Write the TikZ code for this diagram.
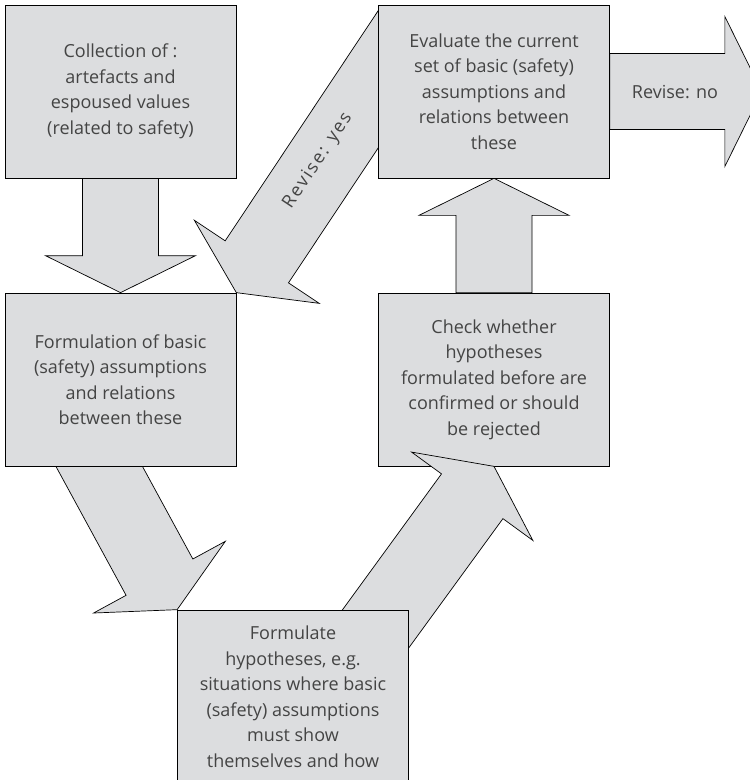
\documentclass[tikz,border=0pt]{standalone}
\usepackage{fontspec}
\setmainfont{Open Sans}
\usetikzlibrary{calc}
\definecolor{boxgray}{RGB}{220,221,223}
\definecolor{inkgray}{RGB}{68,68,68}
\pgfdeclarelayer{bottom}
\pgfdeclarelayer{back}
\pgfsetlayers{bottom,back,main}
\tikzset{
	blockbox/.style={draw=black, line width=0.7pt, fill=boxgray, minimum width=231pt, minimum height=173pt, inner sep=0pt, align=center, text=inkgray, font=\fontsize{18}{25.5}\selectfont},
	fatbody/.style={draw=black, line width=0.7pt, fill=boxgray, line join=miter},
	arrowtext/.style={text=inkgray, font=\fontsize{18}{25.5}\selectfont, inner sep=0pt}
}
\def\fatarrow(#1)(#2){\coordinate (fa-b) at ($(#2)!37pt!(#1)$);
	\draw[fatbody] ($(#1)!38pt!90:(#2)$) -- ($(fa-b)!38pt!90:(#2)$) -- ($(fa-b)!75pt!90:(#2)$) -- (#2) -- ($(fa-b)!75pt!-90:(#2)$) -- ($(fa-b)!38pt!-90:(#2)$) -- ($(#1)!38pt!-90:(#2)$) -- cycle;}

\begin{document}
\begin{tikzpicture}[x=1pt, y=-1pt]
			%%%%% START %%%%%
			\useasboundingbox (0,0) rectangle (750,780);
			
			\begin{pgfonlayer}{bottom}
			\node[blockbox] (check) at (494,379.5) {Check whether\\hypotheses\\formulated before are\\confirmed or should\\be rejected};
			\end{pgfonlayer}
			
			\node[blockbox] (collect) at (120.5,91.5) {Collection of :\\artefacts and\\espoused values\\(related to safety)};
			\node[blockbox] (basic) at (120.5,379.5) {Formulation of basic\\(safety) assumptions\\and relations\\between these};
			\node[blockbox] (evaluate) at (494,91.5) {Evaluate the current\\set of basic (safety)\\assumptions and\\relations between\\these};
			\node[blockbox] (hypo) at (293,696.5) {Formulate\\hypotheses, e.g.\\situations where basic\\(safety) assumptions\\must show\\themselves and how};
			
			% free ends of the fat arrows
			\coordinate (yesstart) at ($(evaluate.north west)+(34.8,22.4)$);
			\coordinate (noend) at ($(evaluate.east)+(152,0)$);
			\coordinate (basicout) at ($(basic.south)+(-48,-49)$);
			\coordinate (hypoout) at ($(hypo.north)+(66,42)$);
			
			\begin{pgfonlayer}{back}
			\fatarrow(collect.south)(basic.north);
			\fatarrow(yesstart)(basic.north east);
			\fatarrow(evaluate.east)(noend);
			\fatarrow(check.north)(evaluate.south);
			\fatarrow(basicout)(hypo.north west);
			\fatarrow(hypoout)(check.south);
			\end{pgfonlayer}
			
			\node[arrowtext, rotate=56.4] (yeslabel) at (318,161) {\addfontfeatures{LetterSpace=11}Revise: yes};
			\node[arrowtext] (nolabel) at (675,92) {Revise: no};
			
			%%%%% END %%%%%
\end{tikzpicture}
\end{document}
